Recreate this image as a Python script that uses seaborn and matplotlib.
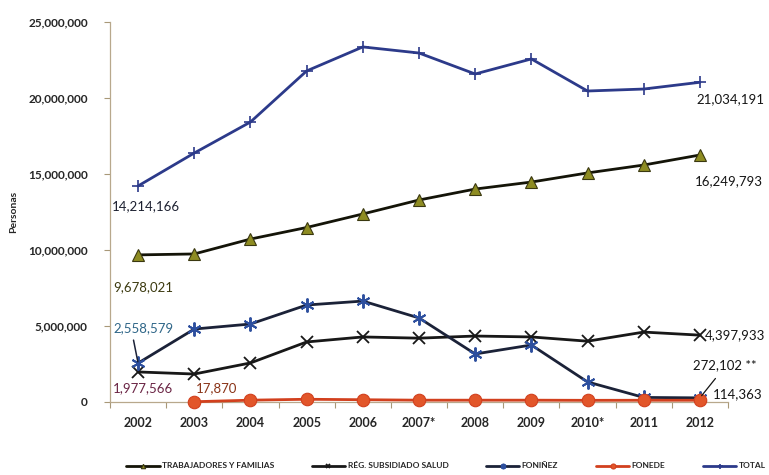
import numpy as np
import pandas as pd
import matplotlib
matplotlib.use("Agg")
import matplotlib.pyplot as plt
from matplotlib.ticker import FuncFormatter, FixedLocator
import seaborn as sns

years = ["2002", "2003", "2004", "2005", "2006", "2007*", "2008", "2009", "2010*", "2011", "2012"]
trabajadores = [9678021, 9740000, 10720000, 11480000, 12370000, 13290000, 14010000, 14470000, 15070000, 15590000, 16249793]
reg_subsidiado = [1977566, 1840000, 2570000, 3950000, 4280000, 4200000, 4340000, 4280000, 4000000, 4600000, 4397933]
foninez = [2558579, 4800000, 5130000, 6380000, 6640000, 5530000, 3160000, 3750000, 1320000, 300000, 272102]
fonede = [np.nan, 17870, 120000, 180000, 150000, 120000, 120000, 120000, 110000, 115000, 114363]
total = [14214166, 16380000, 18420000, 21780000, 23360000, 22960000, 21580000, 22570000, 20460000, 20590000, 21034191]
series_names = ["TRABAJADORES Y FAMILIAS", "RÉG. SUBSIDIADO SALUD", "FONIÑEZ", "FONEDE", "TOTAL"]

sns.set_theme(style="white")
plt.rcParams["font.family"] = ["Lato", "DejaVu Sans"]

fig = plt.figure(figsize=(7.69, 4.75), dpi=100)
ax = fig.add_axes([110 / 769, 1 - 402 / 475, 618 / 769, 380 / 475])

x = np.arange(len(years))
styles = [
    (trabajadores, dict(color="#141408", marker="^", markersize=8, markerfacecolor="#8e8c22", markeredgecolor="#3a3810", markeredgewidth=0.8)),
    (reg_subsidiado, dict(color="#181818", marker="x", markersize=8, markeredgecolor="#181818", markeredgewidth=1.3)),
    (foninez, dict(color="#1b2238", marker=(6, 2, 0), markersize=10, markeredgecolor="#2d4f9e", markeredgewidth=1.4)),
    (fonede, dict(color="#d2401e", marker="o", markersize=9, markerfacecolor="#e2562a", markeredgecolor="#d2401e", markeredgewidth=0.8)),
    (total, dict(color="#2c3a8a", marker="+", markersize=9, markeredgecolor="#2c3a8a", markeredgewidth=1.2)),
]
for (vals, kw), name in zip(styles, series_names):
    df = pd.DataFrame({"x": x, "y": vals})
    sns.lineplot(data=df, x="x", y="y", ax=ax, sort=False, linewidth=2.0, label=name,
                 clip_on=False, zorder=3, **kw)

ax.set_xlim(-0.5, len(years) - 0.5)
ax.set_ylim(0, 25000000)
ax.set_xticks(x)
ax.set_xticklabels(years, fontsize=9, fontweight="bold")
ax.xaxis.set_minor_locator(FixedLocator(np.arange(-0.5, len(years), 1.0)))
ax.tick_params(axis="x", which="major", length=0, pad=11)
ax.tick_params(axis="x", which="minor", length=4, width=0.8, color="#a89878", direction="out", bottom=True)
ax.set_yticks([0, 5000000, 10000000, 15000000, 20000000, 25000000])
ax.yaxis.set_major_formatter(FuncFormatter(lambda v, p: f"{v:,.0f}"))
for lab in ax.get_yticklabels():
    lab.set_fontweight("bold")
    lab.set_fontsize(8.5)
ax.tick_params(axis="y", length=4, width=0.8, color="#a89878", direction="out", pad=12, left=True)
ax.set_xlabel("")
ax.set_ylabel("Personas", fontsize=7.5, fontweight="bold")
ax.yaxis.set_label_coords(-0.148, 0.5)
for s in ["top", "right"]:
    ax.spines[s].set_visible(False)
for s in ["left", "bottom"]:
    ax.spines[s].set_color("#b8a88c")
    ax.spines[s].set_linewidth(0.9)
ax.grid(False)

lab_kw = dict(textcoords="offset pixels", fontsize=9.5, va="center", ha="left", zorder=5)
ax.annotate("14,214,166", xy=(0, total[0]), xytext=(-26, -20), color="#1c2030", **lab_kw)
ax.annotate("21,034,191", xy=(10, total[10]), xytext=(-3, -17), color="#151515", **lab_kw)
ax.annotate("16,249,793", xy=(10, trabajadores[10]), xytext=(-5, -26), color="#151515", **lab_kw)
ax.annotate("9,678,021", xy=(0, trabajadores[0]), xytext=(-25, -32), color="#3c3a10", **lab_kw)
ax.annotate("2,558,579", xy=(0, foninez[0]), xytext=(-25, 35), color="#2f6688",
            arrowprops=dict(arrowstyle="-", color="#1b2238", lw=1.1, shrinkA=2, shrinkB=1,
                            relpos=(0.32, 0.0)), **lab_kw)
ax.annotate("1,977,566", xy=(0, reg_subsidiado[0]), xytext=(-25, -16), color="#6a2444", **lab_kw)
ax.annotate("17,870", xy=(1, fonede[1]), xytext=(2, 14), color="#8a3418", **lab_kw)
ax.annotate("4,397,933", xy=(10, reg_subsidiado[10]), xytext=(5, 0), color="#151515", **lab_kw)
ax.annotate("272,102 **", xy=(10, foninez[10]), xytext=(-7, 33), color="#151515",
            arrowprops=dict(arrowstyle="-", color="#151515", lw=0.9, shrinkA=4, shrinkB=2,
                            relpos=(0.45, 0.0)), **lab_kw)
ax.annotate("114,363", xy=(10, fonede[10]), xytext=(13, 6), color="#151515", **lab_kw)

handles, labels = ax.get_legend_handles_labels()
if ax.get_legend() is not None:
    ax.get_legend().remove()
fig.legend(handles, labels, loc="center", bbox_to_anchor=(446 / 769, 1 - 466 / 475),
           bbox_transform=fig.transFigure, ncol=5, frameon=False,
           prop=dict(size=6, weight="bold"), handlelength=4.0, handletextpad=0.3,
           columnspacing=4.5, markerscale=0.4, borderpad=0.1)

fig.savefig("out.png", dpi=100)
